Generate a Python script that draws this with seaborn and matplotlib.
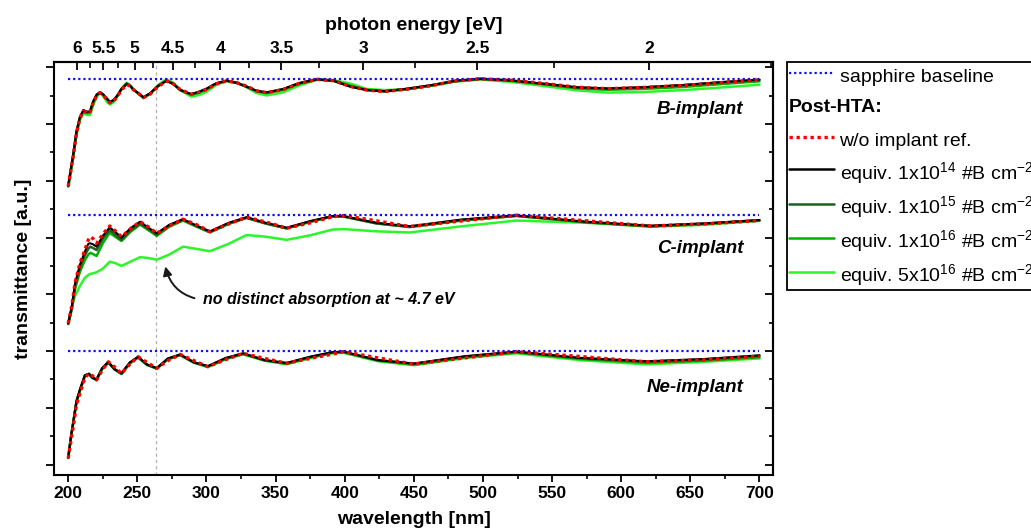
import numpy as np
import pandas as pd
import matplotlib
matplotlib.use("Agg")
import matplotlib.pyplot as plt
import seaborn as sns
from matplotlib.lines import Line2D
from matplotlib.legend_handler import HandlerBase
from matplotlib.text import Text

# ---------------- data (transmittance, % of sapphire baseline) ----------------
wl_B = [200, 202, 203.6, 206, 208.5, 211, 213.3, 215.7, 218, 220.5, 223, 225.3, 228, 230.2, 232.5,
        235, 238.5, 242.3, 245, 247, 251, 254.3, 259, 265, 271, 276, 281, 289, 295, 300,
        307, 314.5, 322, 329, 336, 343.5, 355.5, 367, 380, 392, 404, 416, 429, 445, 463,
        480, 498, 520, 545, 568, 590, 615, 645, 672, 700]
B_ref = [62.1, 68.0, 72.7, 81.0, 86.2, 88.6, 88.0, 88.0, 91.5, 94.0, 95.1, 94.3, 92.7, 91.5, 92.0,
         93.3, 96.0, 98.0, 97.3, 96.2, 94.8, 93.3, 94.5, 97.2, 99.2, 98.2, 96.2, 94.5, 95.3, 96.2,
         98.2, 99.2, 98.6, 97.4, 95.8, 95.1, 96.2, 98.3, 99.8, 99.3, 97.3, 96.0, 95.5, 96.3, 97.6,
         99.2, 100.0, 99.5, 98.3, 97.0, 96.5, 96.9, 97.6, 98.6, 99.6]
B_1e14 = [62.3, 68.5, 73.2, 81.5, 86.6, 89.0, 88.4, 88.5, 92.0, 94.4, 95.3, 94.5, 93.0, 91.9, 92.4,
          93.8, 96.4, 98.2, 97.4, 96.2, 94.8, 93.5, 94.8, 97.5, 99.3, 98.1, 96.0, 94.6, 95.5, 96.5,
          98.4, 99.3, 98.5, 97.2, 95.8, 95.2, 96.4, 98.5, 99.8, 99.2, 97.2, 96.0, 95.6, 96.5, 97.8,
          99.3, 100.0, 99.4, 98.2, 97.0, 96.6, 97.0, 97.8, 98.8, 99.7]
B_1e15 = [62.2, 68.3, 73.0, 81.3, 86.4, 88.8, 88.2, 88.3, 91.8, 94.2, 95.2, 94.4, 92.9, 91.8, 92.3,
          93.6, 96.3, 98.2, 97.4, 96.2, 94.8, 93.4, 94.7, 97.4, 99.3, 98.2, 96.1, 94.5, 95.4, 96.4,
          98.3, 99.3, 98.5, 97.2, 95.7, 95.1, 96.3, 98.4, 99.8, 99.3, 97.3, 96.0, 95.5, 96.4, 97.7,
          99.2, 100.0, 99.4, 98.1, 96.9, 96.5, 96.9, 97.7, 98.7, 99.6]
B_1e16 = [62.1, 68.0, 72.8, 81.0, 86.1, 88.5, 87.9, 88.0, 91.4, 94.0, 95.1, 94.2, 92.6, 91.4, 92.0,
          93.5, 96.3, 98.3, 97.5, 96.3, 94.7, 93.3, 94.6, 97.4, 99.4, 98.3, 96.0, 94.3, 95.2, 96.2,
          98.2, 99.3, 98.6, 97.2, 95.6, 94.9, 96.1, 98.2, 99.7, 99.4, 97.6, 96.1, 95.6, 96.3, 97.6,
          99.1, 99.9, 99.3, 98.0, 96.6, 96.1, 96.4, 97.1, 98.1, 99.1]
B_5e16 = [62.0, 67.5, 72.0, 80.0, 85.5, 87.8, 87.3, 87.2, 90.5, 93.6, 95.0, 93.8, 91.8, 90.9, 91.6,
          93.3, 96.6, 98.6, 97.6, 96.3, 94.5, 93.3, 94.6, 97.8, 99.8, 98.6, 96.0, 93.7, 94.3, 95.4,
          97.8, 99.2, 98.7, 97.0, 95.0, 94.1, 95.2, 97.6, 99.6, 99.5, 98.3, 96.4, 96.0, 96.3, 97.5,
          99.0, 99.7, 98.9, 97.4, 95.9, 95.1, 95.3, 96.0, 96.9, 97.9]

wl_C = [200, 202.5, 205, 208.5, 212, 214.5, 216, 218, 220.5, 225, 230, 234, 238.5, 245, 252,
        258, 264, 273, 283, 293, 302.5, 316, 329, 343, 358, 375, 391, 399, 423, 447,
        485, 524, 575, 621, 660, 700]
C_ref = [61.8, 67.7, 76.3, 83.0, 87.6, 91.2, 92.3, 91.6, 90.0, 93.2, 96.1, 94.4, 92.3, 95.1, 97.6,
         95.8, 93.5, 96.1, 98.5, 96.5, 94.1, 96.8, 99.2, 97.5, 95.3, 97.2, 99.3, 99.8, 97.9, 95.9,
         97.9, 99.9, 97.9, 96.1, 96.8, 98.0]
C_1e14 = [61.8, 67.5, 76.0, 82.5, 87.0, 89.8, 90.0, 89.6, 88.8, 92.6, 95.6, 94.0, 92.0, 95.3, 97.6,
          95.5, 93.5, 96.5, 98.5, 96.2, 94.2, 97.2, 99.2, 97.2, 95.5, 97.8, 99.6, 99.6, 97.2, 96.0,
          98.4, 99.8, 97.6, 96.2, 97.0, 98.2]
C_1e15 = [61.6, 67.0, 75.0, 81.5, 85.8, 88.0, 88.8, 88.3, 87.6, 91.6, 94.7, 93.0, 91.2, 94.5, 96.9,
          95.0, 93.0, 96.2, 98.3, 96.0, 94.0, 97.0, 99.0, 97.0, 95.3, 97.7, 99.5, 99.5, 97.0, 95.8,
          98.2, 99.7, 97.4, 96.0, 96.9, 98.1]
C_1e16 = [61.5, 66.5, 74.0, 80.0, 84.0, 86.0, 86.6, 86.2, 85.5, 90.0, 93.7, 92.3, 90.8, 94.0, 96.6,
          94.6, 92.6, 95.8, 98.0, 95.8, 93.8, 96.8, 98.9, 96.9, 95.2, 97.5, 99.4, 99.4, 97.0, 95.7,
          98.0, 99.6, 97.4, 96.0, 96.8, 98.0]
C_5e16 = [61.8, 67.3, 71.5, 75.0, 77.8, 78.8, 79.2, 79.4, 79.8, 81.0, 83.5, 83.0, 82.0, 83.5, 85.1,
          84.8, 84.2, 86.0, 88.8, 88.0, 87.2, 89.8, 92.9, 92.3, 91.2, 92.8, 94.8, 95.0, 94.2, 93.8,
          96.0, 98.0, 97.2, 95.8, 96.5, 97.9]

wl_Ne = [200, 202, 203.6, 206, 208.5, 212, 215, 217.5, 220.5, 224.5, 229, 233.5, 238.5, 244.5, 250.5,
         257, 264, 272, 281, 291, 301, 314, 326.5, 342, 358, 375, 391, 399, 424, 450,
         487, 524, 570, 618, 660, 700]
Ne_ref = [62.2, 68.5, 73.3, 81.0, 85.1, 90.5, 92.1, 91.3, 89.8, 93.2, 96.2, 94.4, 92.1, 95.3, 98.0,
          96.0, 93.9, 96.6, 98.8, 96.6, 94.5, 97.0, 99.2, 97.4, 95.7, 97.4, 98.9, 99.8, 97.6, 95.4,
          97.6, 99.8, 98.1, 96.2, 96.9, 98.2]
Ne_1e14 = [62.5, 70.0, 75.0, 82.5, 86.5, 91.5, 92.0, 90.6, 90.0, 94.0, 96.2, 93.6, 92.2, 96.0, 98.0,
           95.2, 94.0, 97.4, 98.8, 96.0, 94.7, 97.6, 99.2, 96.8, 95.8, 98.0, 99.6, 99.8, 96.8, 95.6,
           98.2, 99.8, 97.6, 96.4, 97.2, 98.5]
Ne_1e15 = [62.4, 69.8, 74.8, 82.3, 86.3, 91.3, 91.9, 90.6, 89.9, 93.8, 96.0, 93.6, 92.0, 95.8, 97.8,
           95.2, 93.9, 97.2, 98.7, 96.0, 94.6, 97.4, 99.1, 96.8, 95.7, 97.9, 99.5, 99.7, 96.8, 95.5,
           98.0, 99.7, 97.5, 96.2, 97.0, 98.3]
Ne_1e16 = [62.3, 69.5, 74.5, 82.0, 86.0, 91.0, 91.8, 90.5, 89.8, 93.6, 95.9, 93.5, 91.9, 95.7, 97.8,
           95.1, 93.8, 97.1, 98.6, 95.9, 94.5, 97.3, 99.0, 96.7, 95.5, 97.7, 99.4, 99.6, 96.6, 95.2,
           97.8, 99.5, 97.2, 95.8, 96.6, 97.8]
Ne_5e16 = [62.3, 69.6, 74.6, 82.2, 86.2, 91.2, 92.0, 90.8, 90.0, 93.8, 96.0, 93.7, 92.0, 95.6, 97.7,
           95.3, 93.8, 97.0, 98.5, 95.9, 94.3, 97.1, 98.8, 96.6, 95.3, 97.5, 99.2, 99.4, 96.4, 95.0,
           97.5, 99.2, 96.8, 95.3, 96.2, 97.4]

sapphire_T = 100.0
panel_names = ["B-implant", "C-implant", "Ne-implant"]
panel_offsets = [96, 48, 0]
panel_label_T = [89, 88, 87]
series_names = ["ref", "1e14", "1e15", "1e16", "5e16"]
energy_major = [6, 5.5, 5, 4.5, 4, 3.5, 3, 2.5, 2]
energy_minor = [5.75, 5.25, 4.75, 4.25, 3.75, 3.25, 2.75, 2.25, 1.75]
marked_energy = 4.7
HC = 1239.84

# ---------------- build table ----------------
panel_data = {
    "B-implant": (wl_B, [B_ref, B_1e14, B_1e15, B_1e16, B_5e16]),
    "C-implant": (wl_C, [C_ref, C_1e14, C_1e15, C_1e16, C_5e16]),
    "Ne-implant": (wl_Ne, [Ne_ref, Ne_1e14, Ne_1e15, Ne_1e16, Ne_5e16]),
}
frames = []
for pname, off in zip(panel_names, panel_offsets):
    wl, curves = panel_data[pname]
    for sname, vals in zip(series_names, curves):
        frames.append(pd.DataFrame({"panel": pname, "series": sname, "wl": wl,
                                    "y": np.asarray(vals) + off}))
df = pd.concat(frames, ignore_index=True)

# ---------------- style ----------------
sns.set_style("ticks")
plt.rcParams["font.family"] = ["Liberation Sans", "DejaVu Sans"]
plt.rcParams["mathtext.fontset"] = "custom"
plt.rcParams["mathtext.rm"] = "Liberation Sans"
plt.rcParams["mathtext.it"] = "Liberation Sans:italic"
plt.rcParams["mathtext.bf"] = "Liberation Sans:bold"
plt.rcParams["mathtext.default"] = "regular"
for k in ["text.color", "axes.labelcolor", "xtick.color", "ytick.color", "axes.edgecolor"]:
    plt.rcParams[k] = "black"

fig = plt.figure(figsize=(10.31, 5.30), dpi=100)
ax = fig.add_axes([54 / 1031, 1 - 475 / 530, (773.3 - 54) / 1031, (475 - 62) / 530])

style = {
    "5e16": dict(color="#2cf52c", lw=1.8, ls="-", z=3),
    "1e16": dict(color="#00b000", lw=1.8, ls="-", z=4),
    "1e15": dict(color="#1f5f1f", lw=1.8, ls="-", z=5),
    "1e14": dict(color="#000000", lw=1.5, ls="-", z=6),
    "ref": dict(color="#ff0000", lw=2.4, ls=(0, (1, 1.1)), z=7),
}
for s in ["5e16", "1e16", "1e15", "1e14", "ref"]:
    st = style[s]
    sns.lineplot(data=df[df.series == s], x="wl", y="y", units="panel", estimator=None,
                 color=st["color"], linewidth=st["lw"], linestyle=st["ls"], ax=ax,
                 legend=False, zorder=st["z"], sort=False)

# sapphire baselines
wl_min, wl_max = min(wl_B), max(wl_B)
for off in panel_offsets:
    ax.hlines(sapphire_T + off, wl_min, wl_max, colors="#1010ee", linestyles=(0, (1, 1.3)),
              lw=1.6, zorder=8)

# 4.7 eV marker
ax.axvline(HC / marked_energy, color="#b0b0b0", lw=0.9, ls=(0, (2.5, 2.5)), zorder=1)

# panel labels
for pname, off, lt in zip(panel_names, panel_offsets, panel_label_T):
    ax.text(688.4, lt + off, pname, ha="right", va="center", fontsize=13.5,
            fontweight="bold", fontstyle="italic")

ax.annotate("no distinct absorption at ~ 4.7 eV", xy=(270, 130.3), xytext=(297.6, 118),
            fontsize=11.5, fontweight="bold", fontstyle="italic", ha="left", va="center",
            arrowprops=dict(arrowstyle="-|>", color="#1a1a1a", lw=1.4, mutation_scale=13,
                            connectionstyle="arc3,rad=-0.35", relpos=(0, 0.5),
                            shrinkA=4, shrinkB=1))

# axes
ax.set_xlim(189.7, 710)
ax.set_ylim(56.3, 201.9)
ax.set_xticks(np.arange(200, 701, 50), labels=[str(v) for v in range(200, 701, 50)],
              fontsize=12.5, fontweight="bold")
ax.set_xticks(np.arange(225, 701, 50), minor=True)
ax.set_yticks(np.arange(60, 201, 20))
ax.set_yticks(np.arange(70, 201, 20), minor=True)
ax.set_yticklabels([])
ax.tick_params(axis="x", which="major", direction="out", length=5, width=1.3, pad=3, top=False)
ax.tick_params(axis="x", which="minor", direction="out", length=3, width=1.2, top=False)
ax.tick_params(axis="y", which="major", direction="out", length=6, width=1.3, right=False)
ax.tick_params(axis="y", which="minor", direction="out", length=3, width=1.2, right=False)
for sp in ax.spines.values():
    sp.set_visible(True)
    sp.set_linewidth(1.5)
    sp.set_color("black")
ax.set_xlabel("wavelength [nm]", fontsize=14, fontweight="bold", labelpad=7)
ax.set_ylabel("transmittance [a.u.]", fontsize=14, fontweight="bold", labelpad=6)

sec = ax.secondary_xaxis("top", functions=(lambda x: HC / np.asarray(x, float),
                                           lambda e: HC / np.asarray(e, float)))
sec.set_xticks(energy_major, labels=[f"{e:g}" for e in energy_major], fontsize=12.5,
               fontweight="bold")
sec.set_xticks(energy_minor, minor=True)
sec.tick_params(axis="x", which="major", direction="in", length=6, width=1.3, pad=4)
sec.tick_params(axis="x", which="minor", direction="in", length=4, width=1.2)
sec.spines["top"].set_linewidth(1.5)
sec.set_xlabel("photon energy [eV]", fontsize=14, fontweight="bold", labelpad=8)

sy = ax.secondary_yaxis("right")
sy.set_yticks(np.arange(60, 201, 20))
sy.set_yticks(np.arange(70, 201, 20), minor=True)
sy.tick_params(axis="y", which="major", direction="in", length=6, width=1.3, labelright=False)
sy.tick_params(axis="y", which="minor", direction="in", length=3, width=1.2)
sy.spines["right"].set_linewidth(1.5)


# legend
class HeaderHandle:
    pass


class HeaderHandler(HandlerBase):
    def create_artists(self, legend, orig_handle, xdescent, ydescent, width, height,
                       fontsize, trans):
        t = Text(-xdescent, -ydescent + height / 2, "Post-HTA:", fontsize=fontsize,
                 fontweight="bold", ha="left", va="center", transform=trans,
                 fontfamily=["Liberation Sans", "DejaVu Sans"])
        return [t]


handles = [
    Line2D([], [], color="#1010ee", lw=1.6, ls=(0, (1, 1.3))),
    HeaderHandle(),
    Line2D([], [], color=style["ref"]["color"], lw=2.4, ls=(0, (1, 1.1))),
    Line2D([], [], color=style["1e14"]["color"], lw=1.8),
    Line2D([], [], color=style["1e15"]["color"], lw=1.8),
    Line2D([], [], color=style["1e16"]["color"], lw=1.8),
    Line2D([], [], color=style["5e16"]["color"], lw=1.8),
]
labels = [
    "sapphire baseline",
    "",
    "w/o implant ref.",
    "equiv. 1x10$^{14}$ #B cm$^{-2}$",
    "equiv. 1x10$^{15}$ #B cm$^{-2}$",
    "equiv. 1x10$^{16}$ #B cm$^{-2}$",
    "equiv. 5x10$^{16}$ #B cm$^{-2}$",
]
leg = fig.legend(handles, labels, handler_map={HeaderHandle: HeaderHandler()},
                 loc="upper left", bbox_to_anchor=(787 / 1031, 1 - 62 / 530),
                 bbox_transform=fig.transFigure, frameon=True, fancybox=False,
                 edgecolor="black", facecolor="white", framealpha=1, fontsize=14,
                 handlelength=2.3, handleheight=1.5, handletextpad=0.3, labelspacing=0.42,
                 borderpad=0.1, borderaxespad=0)
leg.get_frame().set_linewidth(1.3)

fig.savefig("out.png", dpi=100)
